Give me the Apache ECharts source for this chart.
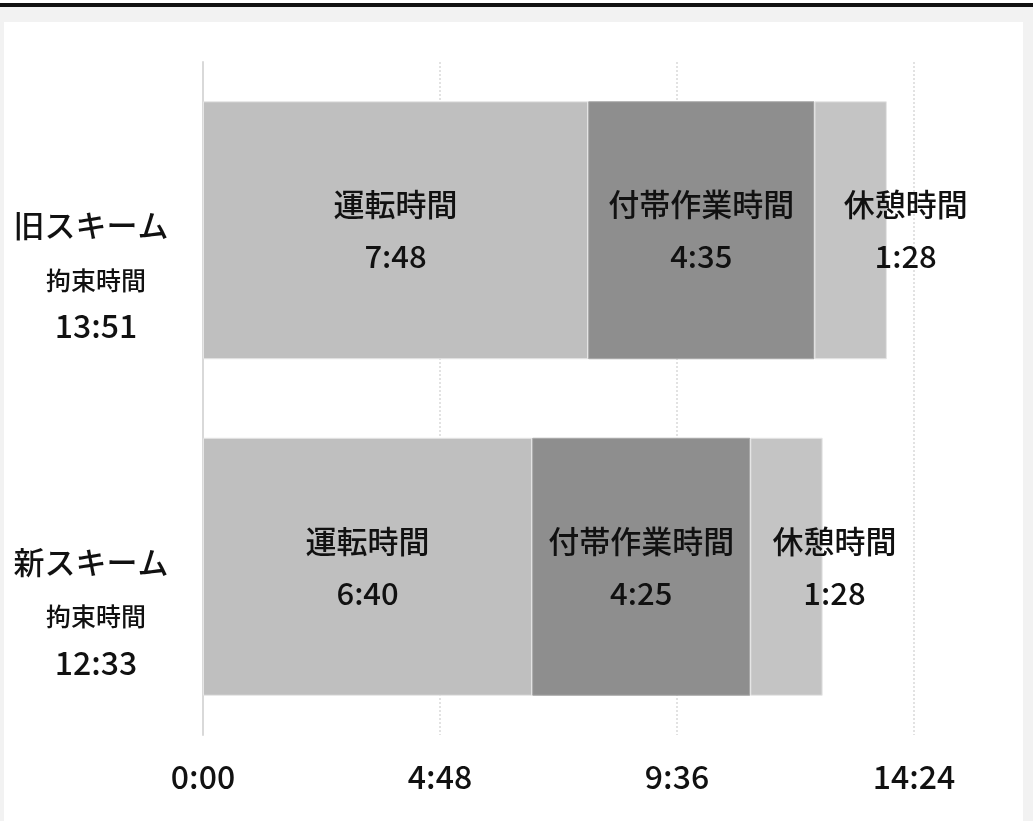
<!DOCTYPE html>
<html>
<head>
<meta charset="utf-8">
<script src="https://cdn.jsdelivr.net/npm/echarts@6/dist/echarts.min.js"></script>
<style>
  html, body { margin: 0; padding: 0; }
  body { width: 1033px; height: 821px; background: #f2f2f2; position: relative; overflow: hidden; }
  #rule { position: absolute; left: 0; top: 0; width: 1033px; height: 3px; background: #fff; border-bottom: 4px solid #111; }
  #chart { position: absolute; left: 4px; top: 22px; width: 1019px; height: 799px; background: #fff; }
</style>
</head>
<body>
<div id="rule"></div>
<div id="chart"></div>
<script>
// Working-hour breakdown (minutes) for the old and new schemes
const schemes = ['旧スキーム', '新スキーム'];
const totals = [831, 753];             // 拘束時間 13:51 / 12:33
const driving = [468, 400];            // 運転時間 7:48 / 6:40
const ancillary = [275, 265];          // 付帯作業時間 4:35 / 4:25
const rest = [88, 88];                 // 休憩時間 1:28 / 1:28
const seriesNames = ['運転時間', '付帯作業時間', '休憩時間'];
const axisMax = 864;                   // 14:24
const axisStep = 288;                  // 4:48

const FONT = '"Noto Sans CJK JP", "Noto Sans", sans-serif';
const WEIGHT = 500;
const hm = m => Math.floor(m / 60) + ':' + String(Math.round(m % 60)).padStart(2, '0');

// category axis runs top-to-bottom
const cats = schemes.slice().reverse();
const rev = a => a.slice().reverse();
const restOffsets = rev([[55, 0], [48, 0]]);

function segLabel(name) {
  return {
    show: true,
    position: 'inside',
    fontFamily: FONT,
    fontWeight: WEIGHT,
    fontSize: 31,
    color: '#111',
    lineHeight: 52,
    formatter: p => name + '\n' + hm(p.value)
  };
}

const chart = echarts.init(document.getElementById('chart'), null, { renderer: 'canvas' });
chart.setOption({
  animation: false,
  textStyle: { fontFamily: FONT },
  grid: { left: 199, right: 109, top: 40, bottom: 86, containLabel: false },
  xAxis: {
    type: 'value',
    min: 0, max: axisMax, interval: axisStep,
    axisLine: { show: false },
    axisTick: { show: false },
    splitLine: { show: true, lineStyle: { color: '#d9d9d9', type: [2, 2], width: 1.5 } },
    axisLabel: { fontFamily: FONT, fontWeight: WEIGHT, fontSize: 32, color: '#111', margin: 26, formatter: v => hm(v) }
  },
  yAxis: {
    type: 'category',
    data: cats,
    axisLine: { show: true, lineStyle: { color: '#d9d9d9', width: 2 } },
    axisTick: { show: false },
    axisLabel: {
      margin: 107,
      align: 'center',
      padding: [82, 0, 0, 0],
      formatter: (v) => {
        const i = schemes.indexOf(v);
        return '{a|' + v + '}\n{b|拘束時間}\n{c|' + hm(totals[i]) + '}';
      },
      rich: {
        a: { fontFamily: FONT, fontWeight: WEIGHT, fontSize: 31, color: '#111', lineHeight: 50, align: 'center', padding: [0, 10, 0, 0] },
        b: { fontFamily: FONT, fontWeight: WEIGHT, fontSize: 25, color: '#111', lineHeight: 60, align: 'center' },
        c: { fontFamily: FONT, fontWeight: WEIGHT, fontSize: 32, color: '#111', lineHeight: 32, align: 'center' }
      }
    }
  },
  series: [
    {
      name: seriesNames[0], type: 'bar', stack: 'total', barWidth: 258,
      itemStyle: { color: '#bfbfbf', borderColor: '#e6e6e6', borderWidth: 1 },
      label: segLabel(seriesNames[0]),
      data: rev(driving)
    },
    {
      name: seriesNames[1], type: 'bar', stack: 'total', barWidth: 258,
      itemStyle: { color: '#8e8e8e', borderColor: '#a8a8a8', borderWidth: 1 },
      label: segLabel(seriesNames[1]),
      data: rev(ancillary)
    },
    {
      name: seriesNames[2], type: 'bar', stack: 'total', barWidth: 258,
      itemStyle: { color: '#c4c4c4', borderColor: '#e6e6e6', borderWidth: 1 },
      label: segLabel(seriesNames[2]),
      data: rev(rest).map((v, i) => ({ value: v, label: { offset: restOffsets[i] } }))
    }
  ]
});
</script>
</body>
</html>
